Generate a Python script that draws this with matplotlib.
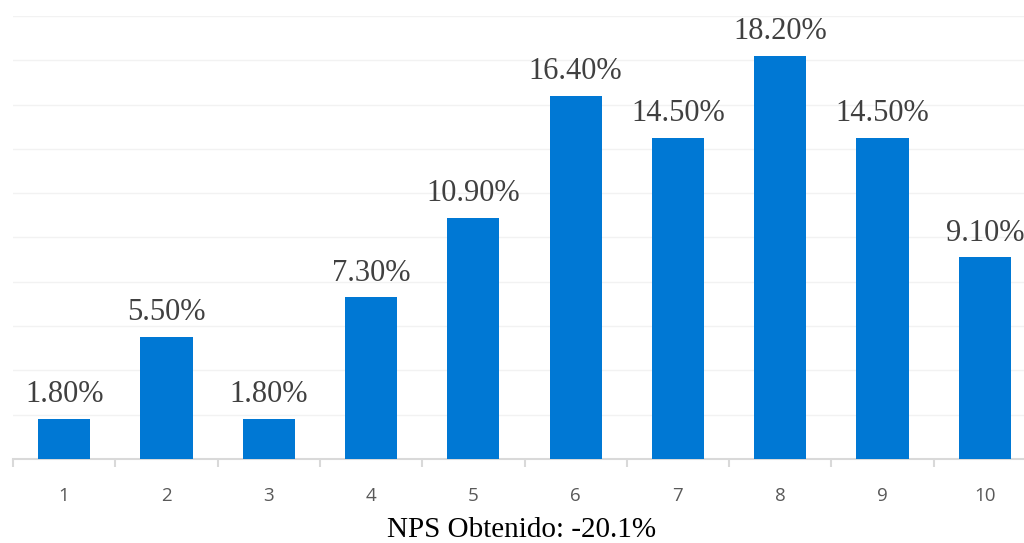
import matplotlib.pyplot as plt
from matplotlib.ticker import MultipleLocator

# --- data ---
categories = ["1", "2", "3", "4", "5", "6", "7", "8", "9", "10"]
values = [1.8, 5.5, 1.8, 7.3, 10.9, 16.4, 14.5, 18.2, 14.5, 9.1]
bar_labels = ["1.80%", "5.50%", "1.80%", "7.30%", "10.90%",
              "16.40%", "14.50%", "18.20%", "14.50%", "9.10%"]
xlabel = "NPS Obtenido: -20.1%"
# ------------

fig = plt.figure(figsize=(10.24, 5.43), dpi=100)
# plot area is slightly wider than the picture on the right side
ax = fig.add_axes([13 / 1024, 1 - 459 / 543, 1023 / 1024, 443 / 543])

x = list(range(len(categories)))
bars = ax.bar(x, values, width=0.51, color="#0078D4", zorder=3)

for xi, v, lab in zip(x, values, bar_labels):
    ax.annotate(lab, (xi, v), xytext=(0, 7), textcoords="offset points",
                ha="center", va="bottom", family="Liberation Serif",
                fontsize=22, color="#404040")

ax.set_xlim(-0.5, 9.5)
ax.set_ylim(0, 20)
ax.yaxis.set_major_locator(MultipleLocator(2))
ax.grid(axis="y", color="#F2F2F2", linewidth=1, zorder=0)
ax.set_yticklabels([])
ax.tick_params(axis="y", length=0)

for s in ["top", "right", "left"]:
    ax.spines[s].set_visible(False)
ax.spines["bottom"].set_color("#D9D9D9")
ax.spines["bottom"].set_linewidth(1.5)

# category labels at centers, tick marks at boundaries
ax.set_xticks(x)
ax.set_xticklabels(categories, family="Open Sans", fontsize=13.5, color="#595959")
ax.tick_params(axis="x", which="major", length=0, pad=20)
ax.set_xticks([i - 0.5 for i in range(len(categories) + 1)], minor=True)
ax.tick_params(axis="x", which="minor", length=6, width=1.5, color="#D9D9D9")

fig.text(522 / 1024, 1 - 530 / 543, xlabel, family="Liberation Serif",
         fontsize=21, color="black", ha="center", va="center")

fig.savefig("out.png", dpi=100)
